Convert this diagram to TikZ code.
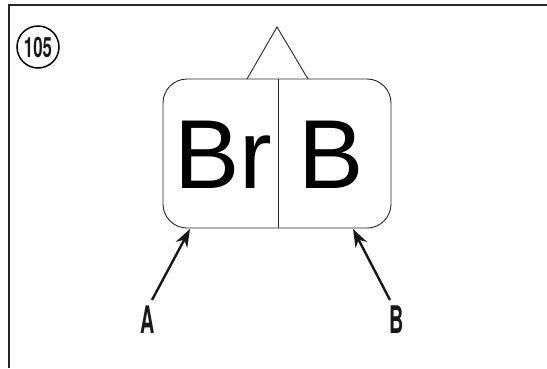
\documentclass[tikz,border=0pt]{standalone}
\usepackage{fontspec}
\setmainfont{Liberation Sans}
\newfontfamily\condfont{TeX Gyre Heros}
\usetikzlibrary{arrows.meta}
\begin{document}
\begin{tikzpicture}[x=1pt,y=-1pt,
  thinline/.style={line width=0.9pt, black!85},
  pointer/.style={line width=2.4pt, black!90, -{Stealth[length=18pt,width=13pt]}},
  tag/.style={font=\condfont\bfseries\fontsize{38}{38}\selectfont, xscale=0.52, inner sep=0pt, text=black!90}]
\useasboundingbox (0,0) rectangle (547,368);
\fill[white] (0,0) rectangle (547,368);
% frame
\draw[line width=2.5pt, black!85] (9,368) -- (9,5) -- (547,5);
% number badge
\node[circle, draw, line width=1.5pt, minimum size=42pt, inner sep=0pt] (num) at (38,47) {};
\node[font=\condfont\bfseries\fontsize{28}{28}\selectfont, xscale=0.6, text=black!90] at ([yshift=-0.5pt]num) {105};
% box
\draw[thinline, rounded corners=24pt] (163,79) rectangle (391,228);
\coordinate (bl) at (190,229);
\coordinate (br) at (353,229);
\draw[thinline] (278,79) -- (278,228);
\draw[thinline] (247,79) -- (277,27) -- (308,79);
\node[anchor=base, font=\fontsize{98}{98}\selectfont, inner sep=0pt] (br1) at (223,188) {Br};
\node[anchor=base, font=\fontsize{98}{98}\selectfont, inner sep=0pt] (b1) at (331,188) {B};
% labels
\node[tag, anchor=base] (A) at (148,333) {A};
\node[tag, anchor=base] (B) at (397,333) {B};
\coordinate (ta) at (152,300);
\coordinate (tb) at (390,300);
\draw[pointer] (ta) -- (bl);
\draw[pointer] (tb) -- (br);
\end{tikzpicture}
\end{document}
